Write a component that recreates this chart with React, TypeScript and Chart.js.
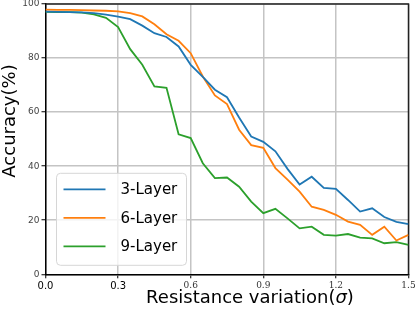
import React, { useEffect, useRef } from "react";
import { Chart, registerables } from "chart.js";

Chart.register(...registerables);

const sigma = [0, 0.05, 0.1, 0.15, 0.2, 0.25, 0.3, 0.35, 0.4, 0.45, 0.5, 0.55, 0.6, 0.65, 0.7, 0.75, 0.8, 0.85, 0.9, 0.95, 1.0, 1.05, 1.1, 1.15, 1.2, 1.25, 1.3, 1.35, 1.4, 1.45, 1.5];
const layer3 = [97.2, 97.1, 97.0, 96.9, 96.6, 96.1, 95.3, 94.4, 92.0, 89.2, 87.8, 84.3, 77.5, 73.0, 68.3, 65.5, 58.0, 51.0, 49.0, 45.5, 39.0, 33.2, 36.1, 32.0, 31.6, 27.5, 23.2, 24.4, 21.2, 19.4, 18.6];
const layer6 = [97.9, 97.8, 97.8, 97.7, 97.6, 97.5, 97.3, 96.6, 95.4, 92.5, 88.8, 86.4, 81.8, 73.2, 66.2, 63.0, 53.5, 47.8, 46.8, 39.3, 35.0, 30.6, 25.0, 23.8, 22.0, 19.5, 18.3, 14.6, 17.6, 12.5, 14.6];
const layer9 = [97.1, 97.0, 97.0, 96.8, 96.2, 94.9, 91.5, 83.3, 77.5, 69.5, 69.0, 51.8, 50.4, 41.1, 35.6, 35.8, 32.4, 26.9, 22.6, 24.2, 20.7, 17.0, 17.6, 14.6, 14.3, 14.9, 13.6, 13.3, 11.5, 11.9, 10.9];
const seriesLabels = ["3-Layer", "6-Layer", "9-Layer"];
const seriesColors = ["#1f77b4", "#ff7f0e", "#2ca02c"];
const xTitle = "Resistance variation(";
const xTitleSym = "σ";
const yTitle = "Accuracy(%)";

const frame = {
  id: "frame",
  beforeDatasetsDraw(chart: any) {
    const { ctx, chartArea: a } = chart;
    ctx.save();
    ctx.strokeStyle = "#222";
    ctx.lineWidth = 1.5;
    ctx.beginPath();
    ctx.moveTo(a.left, a.top);
    ctx.lineTo(a.right, a.top);
    ctx.lineTo(a.right, a.bottom);
    ctx.stroke();
    ctx.restore();
  },
  afterDatasetsDraw(chart: any) {
    const { ctx, chartArea: a } = chart;
    ctx.save();
    // legend
    const bx = a.left + 11, by = a.bottom - 101, bw = 130, bh = 92, r = 4;
    ctx.beginPath();
    ctx.moveTo(bx + r, by);
    ctx.arcTo(bx + bw, by, bx + bw, by + bh, r);
    ctx.arcTo(bx + bw, by + bh, bx, by + bh, r);
    ctx.arcTo(bx, by + bh, bx, by, r);
    ctx.arcTo(bx, by, bx + bw, by, r);
    ctx.closePath();
    ctx.fillStyle = "rgba(255,255,255,0.8)";
    ctx.fill();
    ctx.strokeStyle = "#d6d6d6";
    ctx.lineWidth = 1;
    ctx.stroke();
    chart.data.datasets.forEach((ds: any, i: number) => {
      const y = by + 16 + i * 28.5;
      ctx.strokeStyle = ds.borderColor;
      ctx.lineWidth = 1.8;
      ctx.beginPath();
      ctx.moveTo(bx + 7, y);
      ctx.lineTo(bx + 49, y);
      ctx.stroke();
      ctx.fillStyle = "#000";
      ctx.font = "15px 'DejaVu Sans'";
      ctx.textBaseline = "middle";
      ctx.textAlign = "left";
      ctx.fillText(ds.label, bx + 64, y + 1);
    });
    ctx.restore();
  },
  afterDraw(chart: any) {
    const { ctx } = chart;
    ctx.save();
    ctx.fillStyle = "#000";
    ctx.textBaseline = "middle";
    ctx.font = "18px 'DejaVu Sans'";
    const w1 = ctx.measureText(xTitle).width;
    ctx.font = "italic 18px 'DejaVu Sans'";
    const w2 = ctx.measureText(xTitleSym).width;
    ctx.font = "18px 'DejaVu Sans'";
    const w3 = ctx.measureText(")").width;
    const total = w1 + w2 + w3;
    let x = 250 - total / 2;
    const y = 298;
    ctx.textAlign = "left";
    ctx.fillText(xTitle, x, y);
    x += w1;
    ctx.font = "italic 18px 'DejaVu Sans'";
    ctx.fillText(xTitleSym, x, y);
    x += w2;
    ctx.font = "18px 'DejaVu Sans'";
    ctx.fillText(")", x, y);
    ctx.translate(10, 121);
    ctx.rotate(-Math.PI / 2);
    ctx.textAlign = "center";
    ctx.fillText(yTitle, 0, 0);
    ctx.restore();
  },
};

export default function App() {
  const ref = useRef<HTMLCanvasElement>(null);
  useEffect(() => {
    document.body.style.margin = "0";
    const chart = new Chart(ref.current!, {
      type: "line",
      data: {
        labels: sigma,
        datasets: [layer3, layer6, layer9].map((d, i) => ({
          label: seriesLabels[i],
          data: d.map((v, j) => ({ x: sigma[j], y: v })),
          borderColor: seriesColors[i],
          backgroundColor: seriesColors[i],
          borderWidth: 1.8,
          pointRadius: 0,
          tension: 0,
          fill: false,
        })),
      },
      options: {
        animation: false,
        responsive: false,
        layout: { padding: { left: 0, top: 4, right: 6.5, bottom: 0 } },
        plugins: { legend: { display: false }, tooltip: { enabled: false } },
        scales: {
          x: {
            type: "linear",
            min: 0,
            max: 1.5,
            afterFit(s: any) {
              s.height = 37.7;
              s.paddingLeft = 0;
              s.paddingRight = 0;
            },
            ticks: {
              stepSize: 0.3,
              padding: 2,
              color: (c: any) => (c.index < 2 ? "#000" : "#333"),
              font: (c: any) =>
                c.index < 2
                  ? { family: "'DejaVu Sans'", size: 10 }
                  : { family: "'DejaVu Serif'", size: 9 },
              callback: (v: any) => Number(v).toFixed(1),
            },
            grid: { color: "#c4c4c4", lineWidth: 1.5, tickLength: 4, tickColor: "#000", tickWidth: 1 },
            border: { display: true, color: "#000", width: 1.5 },
          },
          y: {
            min: 0,
            max: 100,
            afterFit(s: any) {
              s.width = 45.5;
              s.paddingTop = 0;
              s.paddingBottom = 0;
            },
            ticks: {
              stepSize: 20,
              padding: 2,
              color: "#444",
              font: { family: "'DejaVu Sans'", size: 9 },
            },
            grid: { color: "#c4c4c4", lineWidth: 1.5, tickLength: 4, tickColor: "#000", tickWidth: 1 },
            border: { display: true, color: "#000", width: 1.5 },
          },
        },
      },
      plugins: [frame],
    });
    return () => chart.destroy();
  }, []);
  return (
    <div style={{ position: "fixed", left: 0, top: 0, width: 415, height: 312 }}>
      <canvas ref={ref} width={415} height={312} />
    </div>
  );
}
